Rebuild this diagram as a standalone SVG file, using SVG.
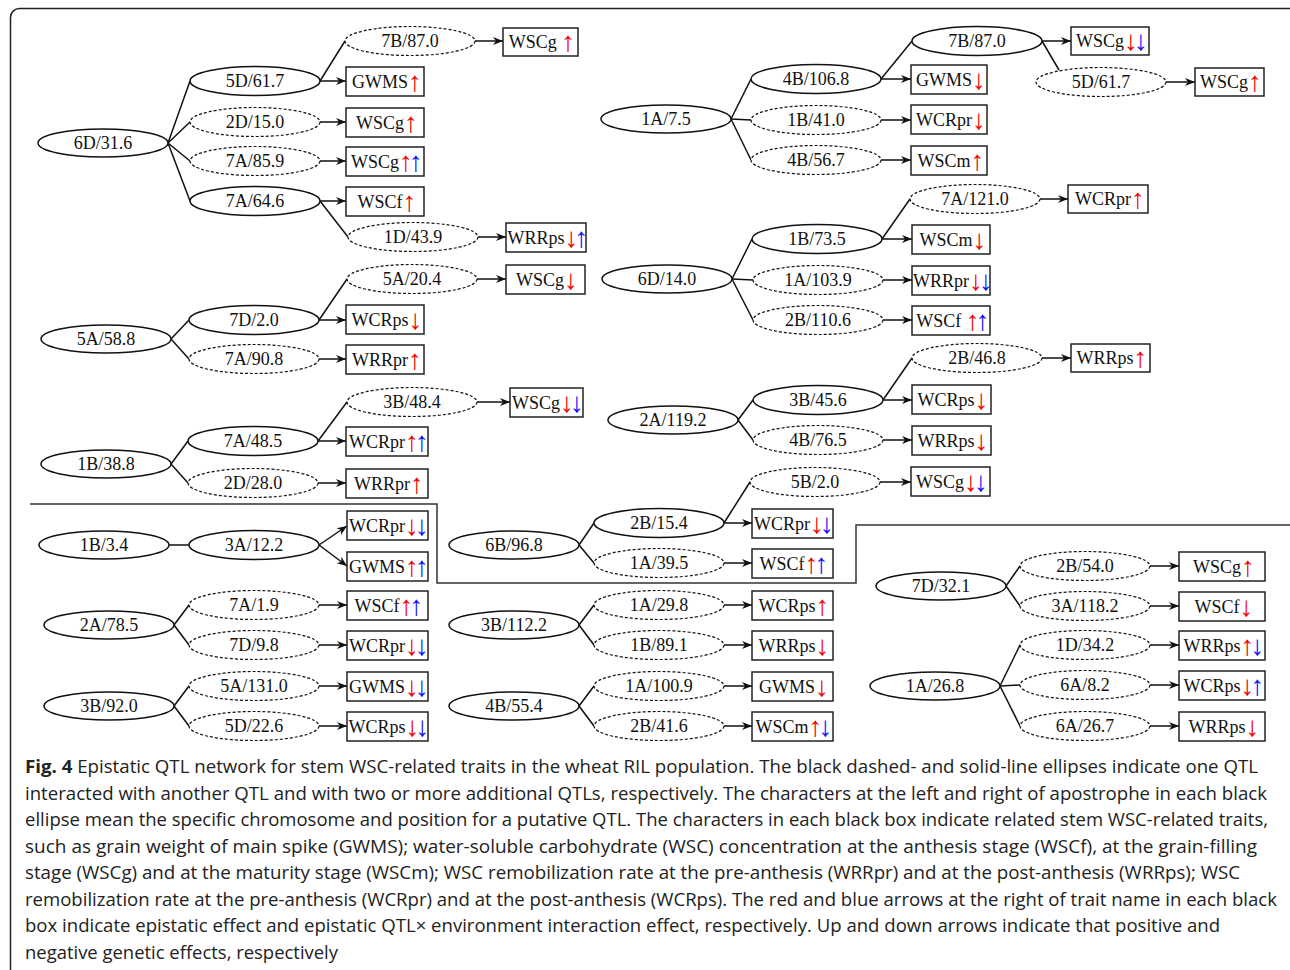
<svg xmlns="http://www.w3.org/2000/svg" width="1290" height="970" viewBox="0 0 1290 970">
<defs>
<marker id="ah" viewBox="0 0 10 10" refX="10" refY="5" markerWidth="10" markerHeight="10" markerUnits="userSpaceOnUse" orient="auto">
<path d="M0,1 L10,5 L0,9 L3,5 z" fill="#111"/>
</marker>
<style>
.e{fill:#fff;stroke:#111;stroke-width:1.5}
.d{stroke-dasharray:3 2;stroke-width:1.2}
.b{fill:#fff;stroke:#222;stroke-width:1.5}
.t{font-family:"Liberation Serif","Times New Roman",serif;font-size:18px;text-anchor:middle;fill:#111}
.r,.u{font-size:28px;letter-spacing:-4px}
.r{fill:#f20000}
.u{fill:#1010ff}
#connectors line{stroke:#111;stroke-width:1.5;fill:none}
#connectors .a{marker-end:url(#ah)}
.cap{font-family:"Open Sans","Noto Sans",sans-serif;font-size:18px;fill:#222}
</style>
</defs>
<rect x="10.5" y="8.5" width="1290" height="990" rx="9" fill="#fff" stroke="#222" stroke-width="1.5"/>
<polyline points="30,504 437,504 437,583 856,583 856,525 1290,525" fill="none" stroke="#333" stroke-width="1.5"/>

<g id="connectors">
<line x1="168" y1="143" x2="190" y2="81"/>
<line x1="168" y1="143" x2="190" y2="122"/>
<line x1="168" y1="143" x2="190" y2="161"/>
<line x1="168" y1="143" x2="190" y2="201"/>
<line x1="320" y1="81" x2="345" y2="41"/>
<line x1="320" y1="201" x2="348" y2="237"/>
<line class="a" x1="320" y1="81" x2="346" y2="81"/>
<line class="a" x1="320" y1="122" x2="346" y2="122"/>
<line class="a" x1="320" y1="161" x2="346" y2="161"/>
<line class="a" x1="320" y1="201" x2="346" y2="201"/>
<line class="a" x1="475" y1="41" x2="503" y2="41"/>
<line class="a" x1="478" y1="237" x2="506" y2="237"/>
<line x1="171" y1="339" x2="189" y2="320"/>
<line x1="171" y1="339" x2="189" y2="359"/>
<line x1="319" y1="320" x2="347" y2="279"/>
<line class="a" x1="319" y1="320" x2="346" y2="320"/>
<line class="a" x1="319" y1="359" x2="346" y2="359"/>
<line class="a" x1="477" y1="279" x2="506" y2="279"/>
<line x1="171" y1="464" x2="188" y2="441"/>
<line x1="171" y1="464" x2="188" y2="483"/>
<line x1="318" y1="441" x2="347" y2="402"/>
<line class="a" x1="318" y1="441" x2="346" y2="441"/>
<line class="a" x1="318" y1="483" x2="346" y2="483"/>
<line class="a" x1="477" y1="402" x2="510" y2="402"/>
<line x1="169" y1="545" x2="189" y2="545"/>
<line class="a" x1="319" y1="545" x2="347" y2="526"/>
<line class="a" x1="319" y1="545" x2="347" y2="566"/>
<line x1="174" y1="625" x2="189" y2="605"/>
<line x1="174" y1="625" x2="189" y2="645"/>
<line class="a" x1="319" y1="605" x2="347" y2="605"/>
<line class="a" x1="319" y1="645" x2="347" y2="645"/>
<line x1="174" y1="706" x2="189" y2="686"/>
<line x1="174" y1="706" x2="189" y2="726"/>
<line class="a" x1="319" y1="686" x2="347" y2="686"/>
<line class="a" x1="319" y1="726" x2="347" y2="726"/>
<line x1="579" y1="545" x2="594" y2="523"/>
<line x1="579" y1="545" x2="594" y2="563"/>
<line x1="724" y1="523" x2="750" y2="482"/>
<line class="a" x1="724" y1="523" x2="752" y2="523"/>
<line class="a" x1="724" y1="563" x2="752" y2="563"/>
<line class="a" x1="880" y1="482" x2="911" y2="482"/>
<line x1="579" y1="625" x2="594" y2="605"/>
<line x1="579" y1="625" x2="594" y2="645"/>
<line class="a" x1="724" y1="605" x2="752" y2="605"/>
<line class="a" x1="724" y1="645" x2="752" y2="645"/>
<line x1="579" y1="706" x2="594" y2="686"/>
<line x1="579" y1="706" x2="594" y2="726"/>
<line class="a" x1="724" y1="686" x2="752" y2="686"/>
<line class="a" x1="724" y1="726" x2="752" y2="726"/>
<line x1="1006" y1="586" x2="1020" y2="566"/>
<line x1="1006" y1="586" x2="1020" y2="606"/>
<line class="a" x1="1150" y1="566" x2="1179" y2="566"/>
<line class="a" x1="1150" y1="606" x2="1179" y2="606"/>
<line x1="1000" y1="686" x2="1020" y2="645"/>
<line x1="1000" y1="686" x2="1020" y2="685"/>
<line x1="1000" y1="686" x2="1020" y2="726"/>
<line class="a" x1="1150" y1="645" x2="1179" y2="645"/>
<line class="a" x1="1150" y1="685" x2="1179" y2="685"/>
<line class="a" x1="1150" y1="726" x2="1179" y2="726"/>
<line x1="731" y1="119" x2="751" y2="79"/>
<line x1="731" y1="119" x2="751" y2="120"/>
<line x1="731" y1="119" x2="751" y2="160"/>
<line x1="881" y1="79" x2="912" y2="41"/>
<line x1="1042" y1="41" x2="1059" y2="70"/>
<line class="a" x1="881" y1="79" x2="911" y2="79"/>
<line class="a" x1="881" y1="120" x2="911" y2="120"/>
<line class="a" x1="881" y1="160" x2="911" y2="160"/>
<line class="a" x1="1042" y1="41" x2="1071" y2="41"/>
<line class="a" x1="1166" y1="82" x2="1195" y2="82"/>
<line x1="732" y1="279" x2="752" y2="239"/>
<line x1="732" y1="279" x2="753" y2="280"/>
<line x1="732" y1="279" x2="753" y2="320"/>
<line x1="882" y1="239" x2="910" y2="199"/>
<line class="a" x1="882" y1="239" x2="912" y2="239"/>
<line class="a" x1="883" y1="280" x2="912" y2="280"/>
<line class="a" x1="883" y1="320" x2="912" y2="320"/>
<line class="a" x1="1040" y1="199" x2="1068" y2="199"/>
<line x1="738" y1="420" x2="753" y2="400"/>
<line x1="738" y1="420" x2="753" y2="440"/>
<line x1="883" y1="400" x2="912" y2="358"/>
<line class="a" x1="883" y1="400" x2="912" y2="400"/>
<line class="a" x1="883" y1="440" x2="912" y2="440"/>
<line class="a" x1="1042" y1="358" x2="1071" y2="358"/>
</g>

<g id="q_6D_31_6"><ellipse class="e" cx="103" cy="143" rx="65" ry="14"/><text class="t" x="103" y="149">6D/31.6</text></g>
<g id="q_5D_61_7"><ellipse class="e" cx="255" cy="81" rx="65" ry="14.5"/><text class="t" x="255" y="87">5D/61.7</text></g>
<g id="q_2D_15_0"><ellipse class="e d" cx="255" cy="122" rx="65" ry="14.5"/><text class="t" x="255" y="128">2D/15.0</text></g>
<g id="q_7A_85_9"><ellipse class="e d" cx="255" cy="161" rx="65" ry="14.5"/><text class="t" x="255" y="167">7A/85.9</text></g>
<g id="q_7A_64_6"><ellipse class="e" cx="255" cy="201" rx="65" ry="14.5"/><text class="t" x="255" y="207">7A/64.6</text></g>
<g id="q_7B_87_0a"><ellipse class="e d" cx="410" cy="41" rx="65" ry="14.5"/><text class="t" x="410" y="47">7B/87.0</text></g>
<g id="q_1D_43_9"><ellipse class="e d" cx="413" cy="237" rx="65" ry="14.5"/><text class="t" x="413" y="243">1D/43.9</text></g>

<g id="q_5A_58_8"><ellipse class="e" cx="106" cy="339" rx="65" ry="14"/><text class="t" x="106" y="345">5A/58.8</text></g>
<g id="q_7D_2_0"><ellipse class="e" cx="254" cy="320" rx="65" ry="14.5"/><text class="t" x="254" y="326">7D/2.0</text></g>
<g id="q_7A_90_8"><ellipse class="e d" cx="254" cy="359" rx="65" ry="14.5"/><text class="t" x="254" y="365">7A/90.8</text></g>
<g id="q_5A_20_4"><ellipse class="e d" cx="412" cy="279" rx="65" ry="14.5"/><text class="t" x="412" y="285">5A/20.4</text></g>

<g id="q_1B_38_8"><ellipse class="e" cx="106" cy="464" rx="65" ry="14"/><text class="t" x="106" y="470">1B/38.8</text></g>
<g id="q_7A_48_5"><ellipse class="e" cx="253" cy="441" rx="65" ry="14.5"/><text class="t" x="253" y="447">7A/48.5</text></g>
<g id="q_2D_28_0"><ellipse class="e d" cx="253" cy="483" rx="65" ry="14.5"/><text class="t" x="253" y="489">2D/28.0</text></g>
<g id="q_3B_48_4"><ellipse class="e d" cx="412" cy="402" rx="65" ry="14.5"/><text class="t" x="412" y="408">3B/48.4</text></g>

<g id="q_1B_3_4"><ellipse class="e" cx="104" cy="545" rx="65" ry="14"/><text class="t" x="104" y="551">1B/3.4</text></g>
<g id="q_3A_12_2"><ellipse class="e" cx="254" cy="545" rx="65" ry="14.5"/><text class="t" x="254" y="551">3A/12.2</text></g>

<g id="q_2A_78_5"><ellipse class="e" cx="109" cy="625" rx="65" ry="14"/><text class="t" x="109" y="631">2A/78.5</text></g>
<g id="q_7A_1_9"><ellipse class="e d" cx="254" cy="605" rx="65" ry="14.5"/><text class="t" x="254" y="611">7A/1.9</text></g>
<g id="q_7D_9_8"><ellipse class="e d" cx="254" cy="645" rx="65" ry="14.5"/><text class="t" x="254" y="651">7D/9.8</text></g>

<g id="q_3B_92_0"><ellipse class="e" cx="109" cy="706" rx="65" ry="14"/><text class="t" x="109" y="712">3B/92.0</text></g>
<g id="q_5A_131_0"><ellipse class="e d" cx="254" cy="686" rx="65" ry="14.5"/><text class="t" x="254" y="692">5A/131.0</text></g>
<g id="q_5D_22_6"><ellipse class="e d" cx="254" cy="726" rx="65" ry="14.5"/><text class="t" x="254" y="732">5D/22.6</text></g>

<g id="q_6B_96_8"><ellipse class="e" cx="514" cy="545" rx="65" ry="14"/><text class="t" x="514" y="551">6B/96.8</text></g>
<g id="q_2B_15_4"><ellipse class="e" cx="659" cy="523" rx="65" ry="14.5"/><text class="t" x="659" y="529">2B/15.4</text></g>
<g id="q_1A_39_5"><ellipse class="e d" cx="659" cy="563" rx="65" ry="14.5"/><text class="t" x="659" y="569">1A/39.5</text></g>
<g id="q_5B_2_0"><ellipse class="e d" cx="815" cy="482" rx="65" ry="14.5"/><text class="t" x="815" y="488">5B/2.0</text></g>

<g id="q_3B_112_2"><ellipse class="e" cx="514" cy="625" rx="65" ry="14"/><text class="t" x="514" y="631">3B/112.2</text></g>
<g id="q_1A_29_8"><ellipse class="e d" cx="659" cy="605" rx="65" ry="14.5"/><text class="t" x="659" y="611">1A/29.8</text></g>
<g id="q_1B_89_1"><ellipse class="e d" cx="659" cy="645" rx="65" ry="14.5"/><text class="t" x="659" y="651">1B/89.1</text></g>

<g id="q_4B_55_4"><ellipse class="e" cx="514" cy="706" rx="65" ry="14"/><text class="t" x="514" y="712">4B/55.4</text></g>
<g id="q_1A_100_9"><ellipse class="e d" cx="659" cy="686" rx="65" ry="14.5"/><text class="t" x="659" y="692">1A/100.9</text></g>
<g id="q_2B_41_6"><ellipse class="e d" cx="659" cy="726" rx="65" ry="14.5"/><text class="t" x="659" y="732">2B/41.6</text></g>

<g id="q_7D_32_1"><ellipse class="e" cx="941" cy="586" rx="65" ry="14"/><text class="t" x="941" y="592">7D/32.1</text></g>
<g id="q_2B_54_0"><ellipse class="e d" cx="1085" cy="566" rx="65" ry="14.5"/><text class="t" x="1085" y="572">2B/54.0</text></g>
<g id="q_3A_118_2"><ellipse class="e d" cx="1085" cy="606" rx="65" ry="14.5"/><text class="t" x="1085" y="612">3A/118.2</text></g>

<g id="q_1A_26_8"><ellipse class="e" cx="935" cy="686" rx="65" ry="14"/><text class="t" x="935" y="692">1A/26.8</text></g>
<g id="q_1D_34_2"><ellipse class="e d" cx="1085" cy="645" rx="65" ry="14.5"/><text class="t" x="1085" y="651">1D/34.2</text></g>
<g id="q_6A_8_2"><ellipse class="e d" cx="1085" cy="685" rx="65" ry="14.5"/><text class="t" x="1085" y="691">6A/8.2</text></g>
<g id="q_6A_26_7"><ellipse class="e d" cx="1085" cy="726" rx="65" ry="14.5"/><text class="t" x="1085" y="732">6A/26.7</text></g>

<g id="q_1A_7_5"><ellipse class="e" cx="666" cy="119" rx="65" ry="14"/><text class="t" x="666" y="125">1A/7.5</text></g>
<g id="q_4B_106_8"><ellipse class="e" cx="816" cy="79" rx="65" ry="14.5"/><text class="t" x="816" y="85">4B/106.8</text></g>
<g id="q_1B_41_0"><ellipse class="e d" cx="816" cy="120" rx="65" ry="14.5"/><text class="t" x="816" y="126">1B/41.0</text></g>
<g id="q_4B_56_7"><ellipse class="e d" cx="816" cy="160" rx="65" ry="14.5"/><text class="t" x="816" y="166">4B/56.7</text></g>
<g id="q_7B_87_0b"><ellipse class="e" cx="977" cy="41" rx="65" ry="14.5"/><text class="t" x="977" y="47">7B/87.0</text></g>
<g id="q_5D_61_7b"><ellipse class="e d" cx="1101" cy="82" rx="65" ry="14.5"/><text class="t" x="1101" y="88">5D/61.7</text></g>

<g id="q_6D_14_0"><ellipse class="e" cx="667" cy="279" rx="65" ry="14"/><text class="t" x="667" y="285">6D/14.0</text></g>
<g id="q_1B_73_5"><ellipse class="e" cx="817" cy="239" rx="65" ry="14.5"/><text class="t" x="817" y="245">1B/73.5</text></g>
<g id="q_1A_103_9"><ellipse class="e d" cx="818" cy="280" rx="65" ry="14.5"/><text class="t" x="818" y="286">1A/103.9</text></g>
<g id="q_2B_110_6"><ellipse class="e d" cx="818" cy="320" rx="65" ry="14.5"/><text class="t" x="818" y="326">2B/110.6</text></g>
<g id="q_7A_121_0"><ellipse class="e d" cx="975" cy="199" rx="65" ry="14.5"/><text class="t" x="975" y="205">7A/121.0</text></g>

<g id="q_2A_119_2"><ellipse class="e" cx="673" cy="420" rx="65" ry="14"/><text class="t" x="673" y="426">2A/119.2</text></g>
<g id="q_3B_45_6"><ellipse class="e" cx="818" cy="400" rx="65" ry="14.5"/><text class="t" x="818" y="406">3B/45.6</text></g>
<g id="q_4B_76_5"><ellipse class="e d" cx="818" cy="440" rx="65" ry="14.5"/><text class="t" x="818" y="446">4B/76.5</text></g>
<g id="q_2B_46_8"><ellipse class="e d" cx="977" cy="358" rx="65" ry="14.5"/><text class="t" x="977" y="364">2B/46.8</text></g>

<g id="b_A1"><rect class="b" x="346" y="67" width="78" height="29"/><text class="t" x="385" y="88">GWMS<tspan class="r" dy="3">↑</tspan></text></g>
<g id="b_A2"><rect class="b" x="346" y="108" width="78" height="29"/><text class="t" x="385" y="129">WSCg<tspan class="r" dy="3">↑</tspan></text></g>
<g id="b_A3"><rect class="b" x="346" y="147" width="78" height="29"/><text class="t" x="385" y="168">WSCg<tspan class="r" dy="3">↑</tspan><tspan class="u">↑</tspan></text></g>
<g id="b_A4"><rect class="b" x="346" y="187" width="78" height="29"/><text class="t" x="385" y="208">WSCf<tspan class="r" dy="3">↑</tspan></text></g>
<g id="b_A5"><rect class="b" x="503" y="28" width="75" height="28"/><text class="t" x="540" y="48">WSCg <tspan class="r" dy="3">↑</tspan></text></g>
<g id="b_A6"><rect class="b" x="506" y="223" width="80" height="29"/><text class="t" x="546" y="244">WRRps<tspan class="r" dy="3">↓</tspan><tspan class="u">↑</tspan></text></g>

<g id="b_B1"><rect class="b" x="346" y="305" width="78" height="29"/><text class="t" x="385" y="326">WCRps<tspan class="r" dy="3">↓</tspan></text></g>
<g id="b_B2"><rect class="b" x="346" y="345" width="78" height="29"/><text class="t" x="385" y="366">WRRpr<tspan class="r" dy="3">↑</tspan></text></g>
<g id="b_B3"><rect class="b" x="506" y="265" width="79" height="29"/><text class="t" x="545" y="286">WSCg<tspan class="r" dy="3">↓</tspan></text></g>

<g id="b_C1"><rect class="b" x="346" y="427" width="82" height="29"/><text class="t" x="387" y="448">WCRpr<tspan class="r" dy="3">↑</tspan><tspan class="u">↑</tspan></text></g>
<g id="b_C2"><rect class="b" x="346" y="469" width="82" height="29"/><text class="t" x="387" y="490">WRRpr<tspan class="r" dy="3">↑</tspan></text></g>
<g id="b_C3"><rect class="b" x="510" y="388" width="73" height="29"/><text class="t" x="546" y="409">WSCg<tspan class="r" dy="3">↓</tspan><tspan class="u">↓</tspan></text></g>

<g id="b_D1"><rect class="b" x="347" y="511" width="81" height="29"/><text class="t" x="387" y="532">WCRpr<tspan class="r" dy="3">↓</tspan><tspan class="u">↓</tspan></text></g>
<g id="b_D2"><rect class="b" x="347" y="552" width="81" height="29"/><text class="t" x="387" y="573">GWMS<tspan class="r" dy="3">↑</tspan><tspan class="u">↑</tspan></text></g>
<g id="b_E1"><rect class="b" x="347" y="591" width="81" height="29"/><text class="t" x="387" y="612">WSCf<tspan class="r" dy="3">↑</tspan><tspan class="u">↑</tspan></text></g>
<g id="b_E2"><rect class="b" x="347" y="631" width="81" height="29"/><text class="t" x="387" y="652">WCRpr<tspan class="r" dy="3">↓</tspan><tspan class="u">↓</tspan></text></g>
<g id="b_F1"><rect class="b" x="347" y="672" width="81" height="29"/><text class="t" x="387" y="693">GWMS<tspan class="r" dy="3">↓</tspan><tspan class="u">↓</tspan></text></g>
<g id="b_F2"><rect class="b" x="347" y="712" width="81" height="29"/><text class="t" x="387" y="733">WCRps<tspan class="r" dy="3">↓</tspan><tspan class="u">↓</tspan></text></g>

<g id="b_G1"><rect class="b" x="752" y="509" width="81" height="29"/><text class="t" x="792" y="530">WCRpr<tspan class="r" dy="3">↓</tspan><tspan class="u">↓</tspan></text></g>
<g id="b_G2"><rect class="b" x="752" y="549" width="81" height="29"/><text class="t" x="792" y="570">WSCf<tspan class="r" dy="3">↑</tspan><tspan class="u">↑</tspan></text></g>
<g id="b_G3"><rect class="b" x="911" y="467" width="79" height="29"/><text class="t" x="950" y="488">WSCg<tspan class="r" dy="3">↓</tspan><tspan class="u">↓</tspan></text></g>
<g id="b_H1"><rect class="b" x="752" y="591" width="81" height="29"/><text class="t" x="792" y="612">WCRps<tspan class="r" dy="3">↑</tspan></text></g>
<g id="b_H2"><rect class="b" x="752" y="631" width="81" height="29"/><text class="t" x="792" y="652">WRRps<tspan class="r" dy="3">↓</tspan></text></g>
<g id="b_I1"><rect class="b" x="752" y="672" width="81" height="29"/><text class="t" x="792" y="693">GWMS<tspan class="r" dy="3">↓</tspan></text></g>
<g id="b_I2"><rect class="b" x="752" y="712" width="81" height="29"/><text class="t" x="792" y="733">WSCm<tspan class="r" dy="3">↑</tspan><tspan class="u">↓</tspan></text></g>

<g id="b_J1"><rect class="b" x="1179" y="552" width="86" height="29"/><text class="t" x="1222" y="573">WSCg<tspan class="r" dy="3">↑</tspan></text></g>
<g id="b_J2"><rect class="b" x="1179" y="592" width="86" height="29"/><text class="t" x="1222" y="613">WSCf<tspan class="r" dy="3">↓</tspan></text></g>
<g id="b_K1"><rect class="b" x="1179" y="631" width="86" height="29"/><text class="t" x="1222" y="652">WRRps<tspan class="r" dy="3">↑</tspan><tspan class="u">↓</tspan></text></g>
<g id="b_K2"><rect class="b" x="1179" y="671" width="86" height="29"/><text class="t" x="1222" y="692">WCRps<tspan class="r" dy="3">↓</tspan><tspan class="u">↑</tspan></text></g>
<g id="b_K3"><rect class="b" x="1179" y="712" width="86" height="29"/><text class="t" x="1222" y="733">WRRps<tspan class="r" dy="3">↓</tspan></text></g>

<g id="b_L1"><rect class="b" x="911" y="65" width="76" height="29"/><text class="t" x="949" y="86">GWMS<tspan class="r" dy="3">↓</tspan></text></g>
<g id="b_L2"><rect class="b" x="911" y="105" width="76" height="29"/><text class="t" x="949" y="126">WCRpr<tspan class="r" dy="3">↓</tspan></text></g>
<g id="b_L3"><rect class="b" x="911" y="146" width="76" height="29"/><text class="t" x="949" y="167">WSCm<tspan class="r" dy="3">↑</tspan></text></g>
<g id="b_L4"><rect class="b" x="1071" y="27" width="78" height="28"/><text class="t" x="1110" y="47">WSCg<tspan class="r" dy="3">↓</tspan><tspan class="u">↓</tspan></text></g>
<g id="b_L5"><rect class="b" x="1195" y="68" width="69" height="28"/><text class="t" x="1229" y="88">WSCg<tspan class="r" dy="3">↑</tspan></text></g>

<g id="b_M1"><rect class="b" x="912" y="225" width="78" height="29"/><text class="t" x="951" y="246">WSCm<tspan class="r" dy="3">↓</tspan></text></g>
<g id="b_M2"><rect class="b" x="912" y="266" width="78" height="29"/><text class="t" x="951" y="287">WRRpr<tspan class="r" dy="3">↓</tspan><tspan class="u">↓</tspan></text></g>
<g id="b_M3"><rect class="b" x="912" y="306" width="78" height="29"/><text class="t" x="951" y="327">WSCf <tspan class="r" dy="3">↑</tspan><tspan class="u">↑</tspan></text></g>
<g id="b_M4"><rect class="b" x="1068" y="185" width="80" height="28"/><text class="t" x="1108" y="205">WCRpr<tspan class="r" dy="3">↑</tspan></text></g>

<g id="b_N1"><rect class="b" x="912" y="385" width="79" height="29"/><text class="t" x="951" y="406">WCRps<tspan class="r" dy="3">↓</tspan></text></g>
<g id="b_N2"><rect class="b" x="912" y="426" width="79" height="29"/><text class="t" x="951" y="447">WRRps<tspan class="r" dy="3">↓</tspan></text></g>
<g id="b_N3"><rect class="b" x="1071" y="344" width="79" height="28"/><text class="t" x="1110" y="364">WRRps<tspan class="r" dy="3">↑</tspan></text></g>

<g id="caption">
<text class="cap" x="25" y="773" textLength="1233" lengthAdjust="spacingAndGlyphs"><tspan font-weight="bold">Fig. 4</tspan> Epistatic QTL network for stem WSC-related traits in the wheat RIL population. The black dashed- and solid-line ellipses indicate one QTL</text>
<text class="cap" x="25" y="800" textLength="1242" lengthAdjust="spacingAndGlyphs">interacted with another QTL and with two or more additional QTLs, respectively. The characters at the left and right of apostrophe in each black</text>
<text class="cap" x="25" y="826" textLength="1243" lengthAdjust="spacingAndGlyphs">ellipse mean the specific chromosome and position for a putative QTL. The characters in each black box indicate related stem WSC-related traits,</text>
<text class="cap" x="25" y="853" textLength="1232" lengthAdjust="spacingAndGlyphs">such as grain weight of main spike (GWMS); water-soluble carbohydrate (WSC) concentration at the anthesis stage (WSCf), at the grain-filling</text>
<text class="cap" x="25" y="879" textLength="1215" lengthAdjust="spacingAndGlyphs">stage (WSCg) and at the maturity stage (WSCm); WSC remobilization rate at the pre-anthesis (WRRpr) and at the post-anthesis (WRRps); WSC</text>
<text class="cap" x="25" y="906" textLength="1252" lengthAdjust="spacingAndGlyphs">remobilization rate at the pre-anthesis (WCRpr) and at the post-anthesis (WCRps). The red and blue arrows at the right of trait name in each black</text>
<text class="cap" x="25" y="932" textLength="1195" lengthAdjust="spacingAndGlyphs">box indicate epistatic effect and epistatic QTL× environment interaction effect, respectively. Up and down arrows indicate that positive and</text>
<text class="cap" x="25" y="959" textLength="313" lengthAdjust="spacingAndGlyphs">negative genetic effects, respectively</text>
</g>
</svg>
